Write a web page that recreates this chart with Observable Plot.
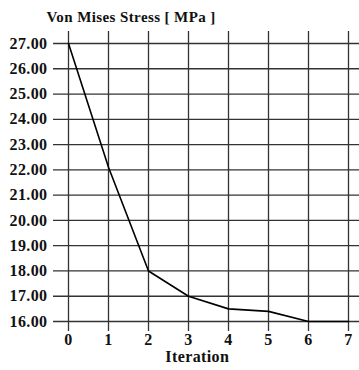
<!DOCTYPE html>
<html><head><meta charset="utf-8">
<script src="https://cdn.jsdelivr.net/npm/d3@7"></script>
<script src="https://cdn.jsdelivr.net/npm/@observablehq/plot@0.6"></script>
<style>
body{margin:0;background:#fff;}
svg text{font-family:"Liberation Serif","Times New Roman",serif !important;font-weight:700 !important;}
</style>
</head><body>
<div id="chart"></div>
<script>
const iterations = [0, 1, 2, 3, 4, 5, 6, 7];
const stress = [27.0, 22.1, 18.0, 17.0, 16.5, 16.4, 16.0, 16.0];
const yTicks = [16, 17, 18, 19, 20, 21, 22, 23, 24, 25, 26, 27];
const xTicks = [0, 1, 2, 3, 4, 5, 6, 7];
const title = "Von Mises Stress [ MPa ]";
const xLabel = "Iteration";

const data = iterations.map((it, i) => ({it, s: stress[i]}));

const chart = Plot.plot({
  width: 359,
  height: 370,
  marginLeft: 68,
  marginRight: 11,
  marginTop: 43,
  marginBottom: 49,
  style: {fontFamily: "Liberation Serif, serif", fontSize: "16px", fontWeight: "bold", color: "#111", background: "#fff"},
  x: {domain: [0, 7], ticks: xTicks, label: null},
  y: {domain: [16, 27], ticks: yTicks, label: null},
  marks: [
    Plot.ruleY(yTicks, {stroke: "#333", strokeWidth: 1.3, insetLeft: -15, insetRight: -11}),
    Plot.ruleX(xTicks, {stroke: "#333", strokeWidth: 1.3, insetTop: -12, insetBottom: -10}),
    Plot.axisY({ticks: yTicks, tickSize: 0, tickPadding: 21, tickFormat: d => d.toFixed(2), fontSize: 16, label: null}),
    Plot.axisX({ticks: xTicks, tickSize: 0, tickPadding: 12, tickFormat: d => String(d), fontSize: 16, label: null}),
    Plot.line(data, {x: "it", y: "s", stroke: "#000", strokeWidth: 1.6}),
    Plot.text([title], {frameAnchor: "top-left", dx: -22, dy: -32, text: d => d, textAnchor: "start", fontSize: 15, fill: "#111"}),
    Plot.text([xLabel], {x: 3.22, frameAnchor: "bottom", dy: 40, text: d => d, fontSize: 16, fill: "#111"})
  ]
});
chart.querySelectorAll("text").forEach(t => t.style.letterSpacing = "0.4px");
document.getElementById("chart").appendChild(chart);
</script>
</body></html>
